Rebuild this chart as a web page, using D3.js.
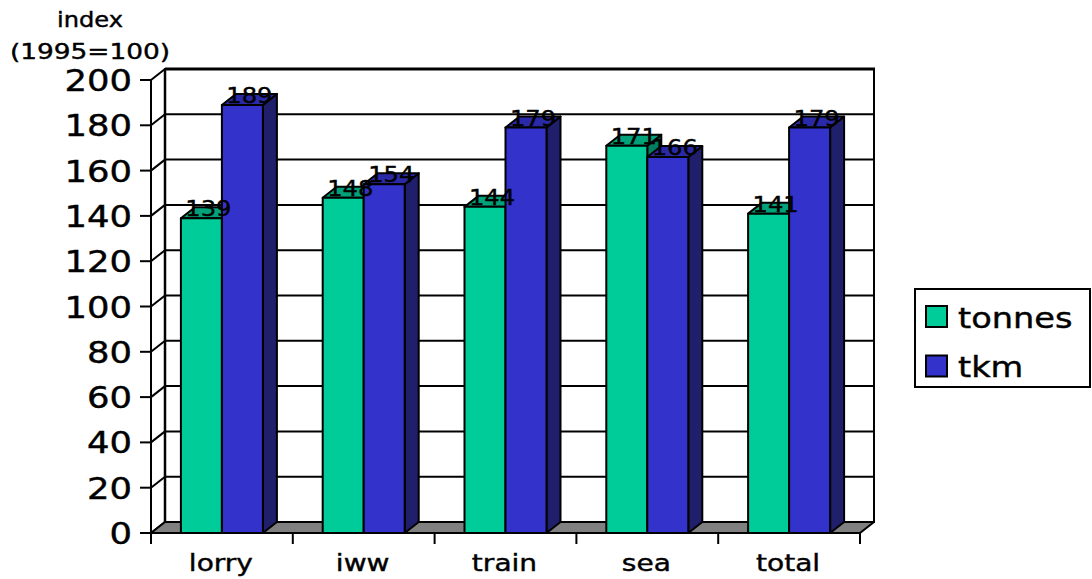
<!DOCTYPE html>
<html>
<head>
<meta charset="utf-8">
<script src="https://cdn.jsdelivr.net/npm/d3@7"></script>
<style>
  html, body { margin: 0; padding: 0; background: #fff; }
  svg { display: block; }
  text { font-family: "DejaVu Sans", Verdana, sans-serif; fill: #000; stroke: #000; stroke-width: 0.4px; }
</style>
</head>
<body>
<svg id="chart" width="1092" height="579"></svg>
<script>
// Freight growth index by mode (1995 = 100)
const categories = ["lorry", "iww", "train", "sea", "total"];
const seriesNames = ["tonnes", "tkm"];
const tonnes = [139, 148, 144, 171, 141];
const tkm = [189, 154, 179, 166, 179];
const yTickValues = [0, 20, 40, 60, 80, 100, 120, 140, 160, 180, 200];
const axisTitle = ["index", "(1995=100)"];

const colors = {
  tonnes: { front: "#00CC99", top: "#00A27A", side: "#007F60" },
  tkm:    { front: "#3333CC", top: "#2A2AA8", side: "#1F1F6B" }
};

const svg = d3.select("#chart");

// Front plane of the 3-D box and depth offset of the back plane
const plot = { left: 151, right: 860, bottom: 533, top: 80 };
const depth = { dx: 14, dy: -11 };

const y = d3.scaleLinear().domain([0, 200]).range([plot.bottom, plot.top]);
const x = d3.scaleBand().domain(categories).range([plot.left, plot.right]).paddingInner(0);
const groupWidth = 82;

const rows = categories.map((c, i) => ({ cat: c, tonnes: tonnes[i], tkm: tkm[i] }));

// helper: horizontally widened text
function label(g, str, px, py, size, anchor, sx) {
  return g.append("text")
    .attr("transform", `translate(${px},${py}) scale(${sx},1)`)
    .attr("text-anchor", anchor)
    .style("font-size", size + "px")
    .text(str);
}

// ---- back wall with gridlines ----
const bx0 = plot.left + depth.dx, bx1 = plot.right + depth.dx;
svg.append("rect")
  .attr("x", bx0).attr("y", y(200) + depth.dy)
  .attr("width", bx1 - bx0).attr("height", y(0) - y(200))
  .attr("fill", "#fff").attr("stroke", "#000").attr("stroke-width", 2);

svg.append("g").selectAll("line").data(yTickValues.filter(v => v > 0 && v < 200)).join("line")
  .attr("x1", bx0).attr("x2", bx1)
  .attr("y1", d => y(d) + depth.dy).attr("y2", d => y(d) + depth.dy)
  .attr("stroke", "#000").attr("stroke-width", 2);

// heavier top edge of the wall
svg.append("line")
  .attr("x1", bx0).attr("x2", bx1 + 1)
  .attr("y1", y(200) + depth.dy).attr("y2", y(200) + depth.dy)
  .attr("stroke", "#000").attr("stroke-width", 3);
svg.append("line")
  .attr("x1", bx0).attr("x2", bx0)
  .attr("y1", y(200) + depth.dy).attr("y2", y(0) + depth.dy)
  .attr("stroke", "#000").attr("stroke-width", 2.5);

// ---- left wall: front edge and diagonal tick connectors ----
svg.append("line")
  .attr("x1", plot.left).attr("x2", plot.left)
  .attr("y1", y(200)).attr("y2", y(0))
  .attr("stroke", "#000").attr("stroke-width", 2);
svg.append("g").selectAll("line").data(yTickValues).join("line")
  .attr("x1", plot.left).attr("x2", bx0)
  .attr("y1", d => y(d)).attr("y2", d => y(d) + depth.dy)
  .attr("stroke", "#000").attr("stroke-width", 2);

// ---- floor ----
svg.append("polygon")
  .attr("points", [
    [plot.left, y(0)], [plot.right, y(0)],
    [bx1, y(0) + depth.dy], [bx0, y(0) + depth.dy]
  ].map(p => p.join(",")).join(" "))
  .attr("fill", "#808080").attr("stroke", "#000").attr("stroke-width", 2)
  .attr("stroke-linejoin", "round");

// ---- y axis ticks and labels ----
const yAxis = svg.append("g");
yAxis.selectAll("line").data(yTickValues).join("line")
  .attr("x1", plot.left - 11).attr("x2", plot.left)
  .attr("y1", d => y(d)).attr("y2", d => y(d))
  .attr("stroke", "#000").attr("stroke-width", 2);
yTickValues.forEach(v => label(yAxis, String(v), 132, y(v) + 11, 30, "end", 1.18));

// axis title
label(svg, axisTitle[0], 90, 27, 21, "middle", 1.15);
label(svg, axisTitle[1], 90, 59, 22, "middle", 1.2);

// ---- x axis ticks and category labels ----
const xAxis = svg.append("g");
const boundaries = categories.map(c => x(c)).concat([plot.right]);
xAxis.selectAll("line").data(boundaries).join("line")
  .attr("x1", d => d).attr("x2", d => d)
  .attr("y1", y(0)).attr("y2", y(0) + 11)
  .attr("stroke", "#000").attr("stroke-width", 2);
categories.forEach(c => label(xAxis, c, x(c) + x.bandwidth() / 2 - 1, 571, 23, "middle", 1.22));

// ---- 3-D bars ----
const bars = svg.append("g");
const valueLabels = [];
rows.forEach(r => {
  const cx = x(r.cat) + x.bandwidth() / 2;
  const xs = d3.scaleBand().domain(seriesNames).range([cx - groupWidth / 2, cx + groupWidth / 2]);
  seriesNames.forEach(s => {
    const v = r[s];
    const x0 = xs(s), x1 = xs(s) + xs.bandwidth();
    const yt = y(v), yb = y(0);
    const g = bars.append("g").attr("stroke", "#000").attr("stroke-width", 2).attr("stroke-linejoin", "round");
    // side face
    g.append("polygon")
      .attr("points", [[x1, yt], [x1 + depth.dx, yt + depth.dy], [x1 + depth.dx, yb + depth.dy], [x1, yb]].map(p => p.join(",")).join(" "))
      .attr("fill", colors[s].side);
    // top face
    g.append("polygon")
      .attr("points", [[x0, yt], [x1, yt], [x1 + depth.dx, yt + depth.dy], [x0 + depth.dx, yt + depth.dy]].map(p => p.join(",")).join(" "))
      .attr("fill", colors[s].top);
    // front face
    g.append("rect")
      .attr("x", x0).attr("y", yt).attr("width", x1 - x0).attr("height", yb - yt)
      .attr("fill", colors[s].front);
    valueLabels.push({ v, x: (x0 + x1) / 2 + depth.dx / 2, y: yt - 2 });
  });
});

// value labels
const vl = svg.append("g");
valueLabels.forEach(d => label(vl, String(d.v), d.x, d.y, 22, "middle", 1.1));

// ---- legend ----
const legend = svg.append("g");
legend.append("rect")
  .attr("x", 915).attr("y", 289).attr("width", 175).attr("height", 98)
  .attr("fill", "#fff").attr("stroke", "#000").attr("stroke-width", 2);
seriesNames.forEach((s, i) => {
  const cy = 316.5 + i * 49.5;
  legend.append("rect")
    .attr("x", 926).attr("y", cy - 10.5).attr("width", 21).attr("height", 21)
    .attr("fill", colors[s].front).attr("stroke", "#000").attr("stroke-width", 2);
  label(legend, s, 958, cy + 11, 28, "start", 1.2);
});
</script>
</body>
</html>
